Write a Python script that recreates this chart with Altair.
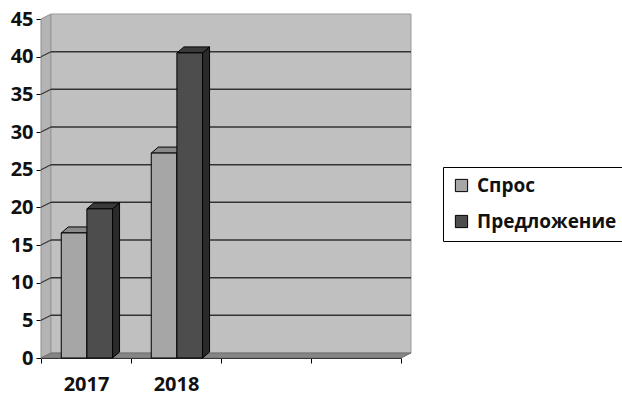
import altair as alt
import pandas as pd

# ---- data ----
slots = ["2017", "2018", "", ""]          # category slots on the x axis
series = ["Спрос", "Предложение"]
spros = [16.6, 27.2]
predlozhenie = [19.8, 40.5]
y_ticks = [0, 5, 10, 15, 20, 25, 30, 35, 40, 45]
x_ticks = [0, 1, 2, 3, 4]

# ---- layout constants ----
W, H = 360, 339
XMAX, YMAX = len(slots), 45
PX, PY = XMAX / W, YMAX / H
DXW, DYW = 10 * PX, 5 * PY      # depth of the back wall
DXB, DYB = 7 * PX, 6 * PY       # depth of the bars
BAR_START, BAR_W = 0.225, 0.285

FONT = "Open Sans"
colors = ["#a6a6a6", "#4d4d4d"]
tops = ["#8a8a8a", "#3a3a3a"]
sides = ["#7a7a7a", "#2a2a2a"]

rows = []
for i, year in enumerate(slots[:2]):
    for s, (name, vals) in enumerate(zip(series, [spros, predlozhenie])):
        v = vals[i]
        xl = i + BAR_START + s * BAR_W
        rows.append(dict(year=year, series=name, s=s, v=v, xl=xl, xr=xl + BAR_W))
bars = pd.DataFrame(rows)

xs = alt.Scale(domain=[0, XMAX], nice=False, zero=False)
ys = alt.Scale(domain=[0, YMAX], nice=False)
label_expr = "datum.value == 0 ? '2017' : datum.value == 1 ? '2018' : ''"
xaxis = alt.Axis(values=x_ticks, labelExpr=label_expr, labelOffset=W / XMAX / 2,
                 labelFlush=False, labelOverlap=False,
                 title=None, grid=False, domainColor="black", tickColor="black",
                 tickSize=5, labelFont=FONT, labelFontWeight="bold", labelFontSize=20,
                 labelColor="#111111", labelPadding=11)
yaxis = alt.Axis(values=y_ticks, title=None, grid=False, domainColor="black",
                 tickColor="black", tickSize=5, labelFont=FONT, labelFontWeight="bold",
                 labelFontSize=20, labelColor="#111111", labelPadding=3,
                 labelFlush=False, labelOverlap=False)


def X(f):
    return alt.X(f, type="quantitative", scale=xs, axis=xaxis)


def Y(f):
    return alt.Y(f, type="quantitative", scale=ys, axis=yaxis)


# side wall (left)
side_wall = pd.DataFrame({"x": [0, DXW], "y": [YMAX, YMAX + DYW], "y2": [0, DYW]})
l_side = alt.Chart(side_wall).mark_area(fill="#b4b4b4", stroke="#8c8c8c", strokeWidth=1).encode(
    x=X("x"), y=Y("y"), y2="y2")

# back wall
back = pd.DataFrame({"x": [DXW], "x2": [XMAX + DXW], "y": [DYW], "y2": [YMAX + DYW]})
l_back = alt.Chart(back).mark_rect(fill="#c0c0c0", stroke="#9a9a9a", strokeWidth=1).encode(
    x=X("x"), x2="x2", y=Y("y"), y2="y2")

# floor
floor = pd.DataFrame({"y": [0, DYW], "x": [0, DXW], "x2": [XMAX, XMAX + DXW]})
l_floor = alt.Chart(floor).mark_area(orient="horizontal", fill="#858585", stroke="#6e6e6e",
                                     strokeWidth=1).encode(
    y=Y("y"), x=X("x"), x2="x2")

# gridlines on back wall + diagonals on side wall
gv = [v for v in y_ticks if 0 < v < YMAX]
grid_back = pd.DataFrame({"x": [DXW] * len(gv), "x2": [XMAX + DXW] * len(gv),
                          "y": [v + DYW for v in gv]})
l_grid = alt.Chart(grid_back).mark_rule(color="#333333", strokeWidth=1.5).encode(
    x=X("x"), x2="x2", y=Y("y"))
grid_side = pd.DataFrame({"x": [0] * len(gv), "x2": [DXW] * len(gv),
                          "y": gv, "y2": [v + DYW for v in gv]})
l_grid_side = alt.Chart(grid_side).mark_rule(color="#333333", strokeWidth=1.2).encode(
    x=X("x"), x2="x2", y=Y("y"), y2="y2")

# bar side faces and top faces
side_rows = []
for _, r in bars.iterrows():
    side_rows.append(dict(id=f"{r.year}-{r.s}", s=r.s, x=r.xr, y=r.v, y2=0))
    side_rows.append(dict(id=f"{r.year}-{r.s}", s=r.s, x=r.xr + DXB, y=r.v + DYB, y2=DYB))
side_df = pd.DataFrame(side_rows)
top_rows = []
for _, r in bars.iterrows():
    top_rows.append(dict(id=f"{r.year}-{r.s}", s=r.s, y=r.v, x=r.xl, x2=r.xr))
    top_rows.append(dict(id=f"{r.year}-{r.s}", s=r.s, y=r.v + DYB, x=r.xl + DXB, x2=r.xr + DXB))
top_df = pd.DataFrame(top_rows)

layers = [l_side, l_back, l_floor, l_grid, l_grid_side]
for s in range(len(series)):
    layers.append(
        alt.Chart(side_df[side_df.s == s]).mark_area(fill=sides[s], stroke="black", strokeWidth=1)
        .encode(x=X("x"), y=Y("y"), y2="y2", detail="id:N"))
    layers.append(
        alt.Chart(top_df[top_df.s == s]).mark_area(orient="horizontal", fill=tops[s], stroke="black",
                                                   strokeWidth=1)
        .encode(y=Y("y"), x=X("x"), x2="x2", detail="id:N"))
    layers.append(
        alt.Chart(bars[bars.s == s]).mark_rect(stroke="black", strokeWidth=1).encode(
            x=X("xl"), x2="xr", y=Y("v"), y2=alt.Y2(datum=0),
            color=alt.Color("series:N", scale=alt.Scale(domain=series, range=colors),
                            legend=alt.Legend(title=None, orient="none", legendX=402, legendY=148,
                                              symbolType="square", symbolSize=150,
                                              symbolStrokeColor="black", symbolStrokeWidth=1,
                                              labelFont=FONT, labelFontWeight="bold",
                                              labelFontSize=19, labelColor="#111111",
                                              strokeColor="black", fillColor="white",
                                              padding=9, rowPadding=16, labelOffset=6,
                                              labelLimit=300))))

chart = alt.layer(*layers).properties(
    width=W, height=H,
    autosize=alt.AutoSizeParams(type="none"),
    padding={"left": 41, "top": 19, "right": 622 - 41 - W, "bottom": 395 - 19 - H},
    background="white",
).configure_view(stroke=None)

chart.save("out.html", embed_options={"renderer": "svg", "actions": False})
